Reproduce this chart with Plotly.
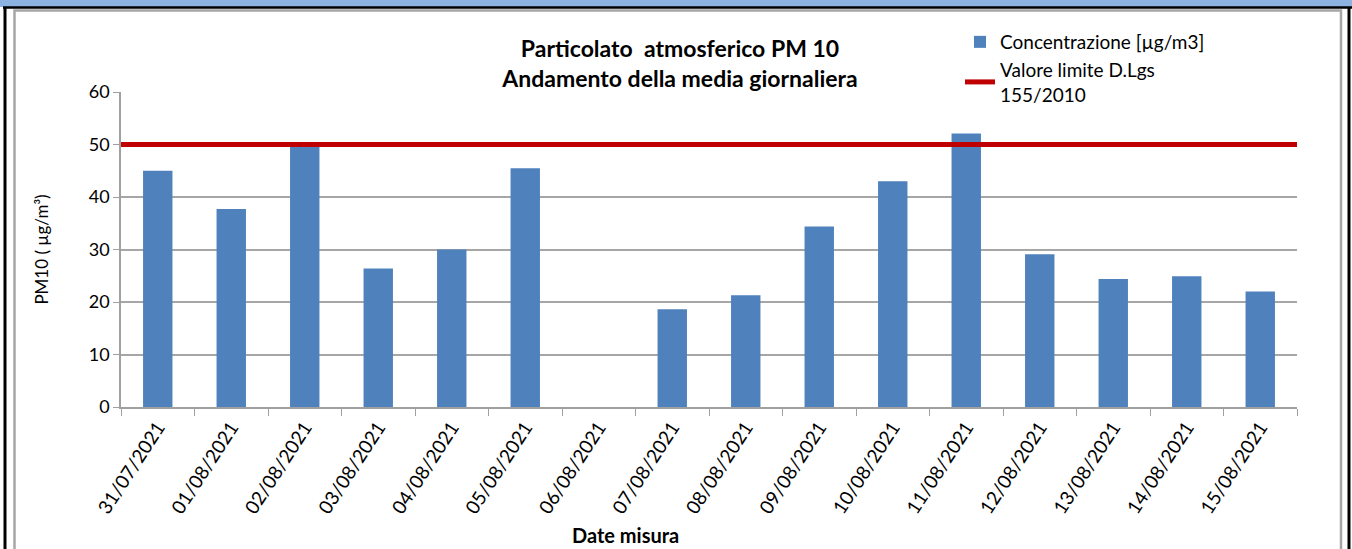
import plotly.graph_objects as go

# Data
dates = ["31/07/2021", "01/08/2021", "02/08/2021", "03/08/2021", "04/08/2021",
         "05/08/2021", "06/08/2021", "07/08/2021", "08/08/2021", "09/08/2021",
         "10/08/2021", "11/08/2021", "12/08/2021", "13/08/2021", "14/08/2021",
         "15/08/2021"]
concentrazione = [45.0, 37.7, 49.7, 26.4, 30.0, 45.5, None, 18.6, 21.3, 34.4,
                  43.0, 52.1, 29.1, 24.4, 24.9, 22.0]
valore_limite = [50] * len(dates)

W, H = 1352, 549
L, R, T, B = 121, 1297, 92, 407  # plot area in pixels

def px(x):
    return (x - L) / (R - L)

def py(y):
    return (B - y) / (B - T)

font = "Lato, 'Open Sans', sans-serif"

fig = go.Figure()

fig.add_trace(go.Bar(
    x=dates, y=concentrazione,
    name="Concentrazione [µg/m3]",
    marker=dict(color="#4f81bd", line=dict(width=0)),
))

# limit line spans the full plot width on an overlaid numeric axis
fig.add_trace(go.Scatter(
    x=list(range(len(dates))), y=valore_limite,
    xaxis="x2", mode="lines",
    name="Valore limite D.Lgs<br>155/2010",
    line=dict(color="#c00000", width=5),
))

fig.update_layout(
    width=W, height=H,
    margin=dict(l=L, r=W - R, t=T, b=H - B),
    plot_bgcolor="white", paper_bgcolor="white",
    font=dict(family=font, color="#000000"),
    bargap=0.6,
    showlegend=True,
    title=dict(
        text="<b>Particolato  atmosferico PM 10<br>Andamento della media giornaliera</b>",
        x=680 / W, xref="container", xanchor="center",
        y=1 - 57 / H, yref="container", yanchor="top",
        font=dict(size=23, family=font),
    ),
    legend=dict(
        x=px(960), y=py(23), xanchor="left", yanchor="top",
        font=dict(size=19, family=font), bgcolor="rgba(0,0,0,0)",
        tracegroupgap=0, itemwidth=30,
    ),
    xaxis=dict(
        type="category", tickangle=-57,
        ticks="outside", tickson="boundaries", ticklen=7, tickcolor="#a0a0a0",
        showline=True, linecolor="#a0a0a0", linewidth=1.5,
        showgrid=False,
        tickfont=dict(size=19, family=font),
    ),
    xaxis2=dict(
        overlaying="x", range=[0, len(dates) - 1], visible=False,
    ),
    yaxis=dict(
        range=[0, 60], dtick=10,
        showgrid=True, gridcolor="#a6a6a6", gridwidth=1.5,
        ticks="outside", ticklen=6, tickcolor="#a0a0a0",
        showline=True, linecolor="#a0a0a0", linewidth=1.5,
        tickfont=dict(size=18, family=font),
        title=dict(text="PM10 ( µg/m³)", font=dict(size=17, family=font), standoff=36),
        zeroline=False,
    ),
    annotations=[
        dict(text="<b>Date misura</b>", xref="paper", yref="paper",
             x=px(625), y=py(535), xanchor="center", yanchor="middle",
             showarrow=False, font=dict(size=20, family=font)),
    ],
    shapes=[
        # blue header band
        dict(type="rect", xref="paper", yref="paper", x0=px(0), x1=px(W), y0=py(0), y1=py(7),
             fillcolor="#8db3e2", line=dict(width=0), layer="below"),
        # black outer frame
        dict(type="line", xref="paper", yref="paper", x0=px(3), x1=px(W), y0=py(7.5), y1=py(7.5),
             line=dict(color="black", width=2.5)),
        dict(type="line", xref="paper", yref="paper", x0=px(5), x1=px(5), y0=py(7), y1=py(H + 5),
             line=dict(color="black", width=3)),
        dict(type="line", xref="paper", yref="paper", x0=px(1349), x1=px(1349), y0=py(7), y1=py(H + 5),
             line=dict(color="black", width=3)),
        # grey inner chart frame
        dict(type="rect", xref="paper", yref="paper", x0=px(14.5), x1=px(1341), y0=py(10.5), y1=py(H + 5),
             line=dict(color="#a6a6a6", width=2.5), fillcolor="rgba(0,0,0,0)"),
    ],
)

# drop the default page margin so the figure sits at the window's corner
fig.write_html("out.html", config={"displayModeBar": False},
               post_script="document.body.style.margin='0';")
